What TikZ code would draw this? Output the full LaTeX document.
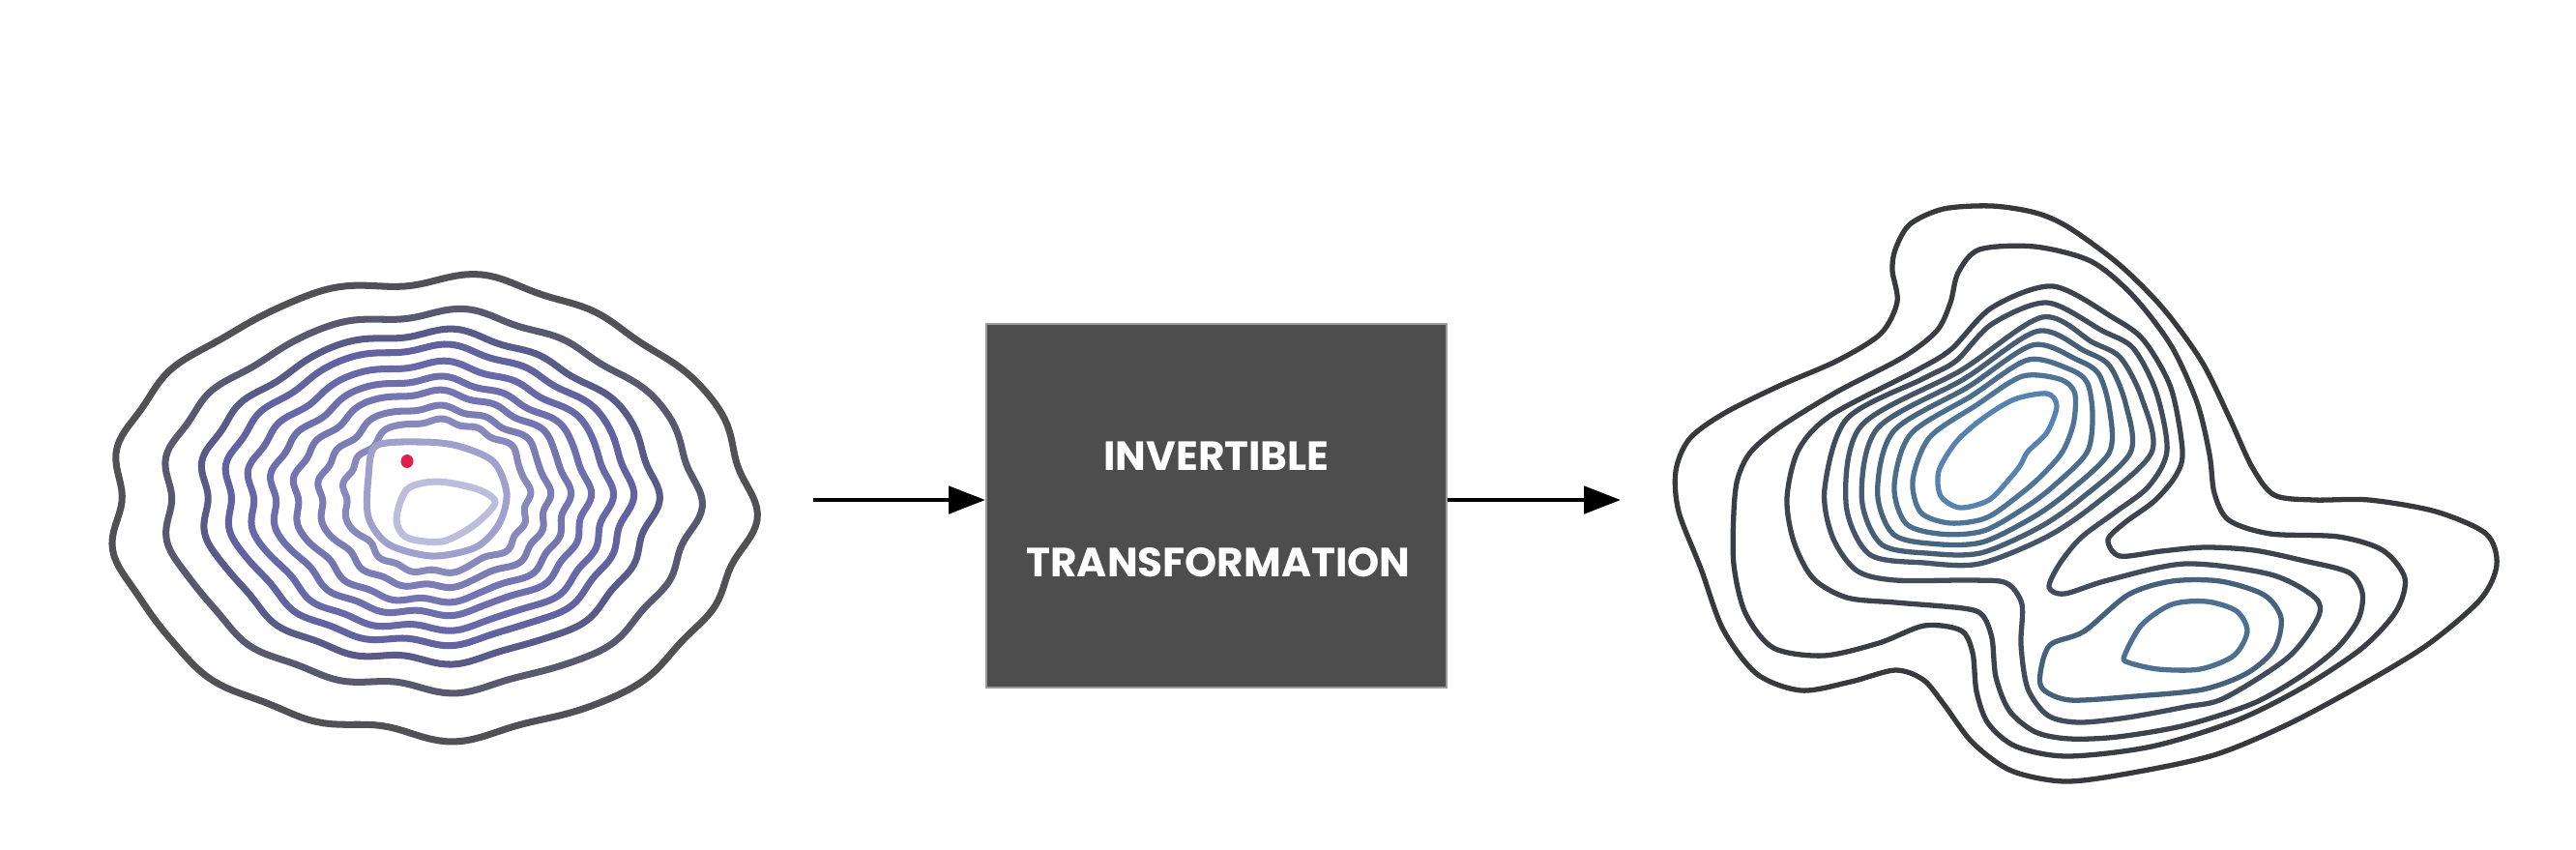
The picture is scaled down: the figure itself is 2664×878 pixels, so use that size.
\documentclass[tikz,border=0pt]{standalone}
\usepackage{fontspec}
\newfontfamily\boxfont{Poppins}
\usetikzlibrary{arrows.meta,calc}
% left contour colours
\definecolor{lA}{HTML}{505055}
\definecolor{lB}{HTML}{58586E}
\definecolor{lC}{HTML}{5A5A88}
\definecolor{lD}{HTML}{6262A0}
\definecolor{lE}{HTML}{6868A8}
\definecolor{lF}{HTML}{6E6EAC}
\definecolor{lG}{HTML}{7474B0}
\definecolor{lH}{HTML}{7C7CB5}
\definecolor{lI}{HTML}{8888BC}
\definecolor{lJ}{HTML}{A0A0CC}
\definecolor{lK}{HTML}{BCBCDC}
% right contour colours
\definecolor{rcA}{HTML}{38393C}
\definecolor{rcB}{HTML}{3A3D43}
\definecolor{rcC}{HTML}{3C434D}
\definecolor{rcD}{HTML}{404C5A}
\definecolor{ucF}{HTML}{445568}
\definecolor{ucE}{HTML}{465D74}
\definecolor{ucD}{HTML}{48657F}
\definecolor{ucC}{HTML}{4B6D8B}
\definecolor{ucB}{HTML}{4E7597}
\definecolor{ucA}{HTML}{5682B0}
\definecolor{lcB}{HTML}{46617C}
\definecolor{lcA}{HTML}{4D7090}
\definecolor{boxfill}{HTML}{4D4D4D}
\definecolor{boxedge}{HTML}{9A9A9A}
\definecolor{dotred}{HTML}{E0204A}
\tikzset{
  lring/.style={line width=2pt, line join=round},
  rring/.style={line width=1.5pt, line join=round},
  arr/.style={line width=1.3pt, -{Triangle[length=10.8pt,width=8pt]}},
  tbox/.style={draw=boxedge, line width=0.5pt, fill=boxfill, minimum width=4.76cm, minimum height=3.76cm, inner sep=0pt},
  btext/.style={text=white, font=\boxfont\bfseries\fontsize{12}{14}\selectfont, inner sep=0pt}
}
\begin{document}
\begin{tikzpicture}[x=0.01cm, y=-0.01cm]
\useasboundingbox (0,0) rectangle (2664,878);
\fill[white] (0,0) rectangle (2664,878);

% ---------- left contour (wavy rings) ----------
\foreach \cx/\a/\cy/\b/\w/\p/\col in {
  444.3/328.8/525/236.2/1.4/40/lA,
  444.3/274.4/519/194.5/1.2/52/lB,
  442.6/233.6/514.8/169.9/1.1/60/lC,
  442.6/208.1/513.1/152.9/1.0/66/lD,
  444.3/186/514/136.8/1.0/72/lE,
  445.1/163.1/514/121.5/0.95/78/lF,
  446.8/141/514/107.9/0.9/84/lG,
  449.4/118.1/514/92.6/0.85/90/lH,
  451.9/95.1/513.1/78.2/0.8/96/lI}{
  \draw[lring, draw=\col] plot[domain=0:360, samples=241, variable=\t]
    ({\cx + cos(\t)*(\a + \w*(2.5*sin(9*\t+\p) + 2.5*sin(13*\t+2*\p) + 2*sin(5*\t+3*\p) + 1.5*sin(17*\t+\p)))},
     {\cy + sin(\t)*(\b + 0.8*\w*(2.5*sin(9*\t+\p) + 2.5*sin(13*\t+2*\p) + 2*sin(5*\t+3*\p) + 1.5*sin(17*\t+\p)))}) -- cycle;
}
\draw[lring, draw=lJ] plot[smooth cycle] coordinates {(389,461) (436,457) (473,461) (510,477) (524,510) (516,542) (492,566) (447,575) (402,563) (381,535) (381,493)};
\draw[lring, draw=lK] plot[smooth cycle] coordinates {(410,537) (421,506) (452,498) (494,506) (512,520) (489,544) (457,560) (421,556)};
\fill[dotred] (421,477) ellipse (6.5 and 7);

% ---------- box and arrows ----------
\node[tbox] (box) at (1258,523) {};
\node[btext] (t1) at (1258,472) {INVERTIBLE};
\node[btext] (t2) at (1260,582) {TRANSFORMATION};
\coordinate (la) at (841,517);
\coordinate (ra) at (1676,517);
\draw[arr] (la) -- (la -| box.west);
\draw[arr] (ra -| box.east) -- (ra);

% ---------- right contour ----------
\draw[rring, draw=rcA] plot[smooth cycle] coordinates {(1960,258) (1975,232) (2010,216) (2060,213) (2105,220) (2139,235) (2191,273) (2237,319) (2277,374) (2306,433) (2329,483) (2352,512) (2393,517) (2450,517) (2519,529) (2571,552) (2582,584) (2565,620) (2510,667) (2439,710) (2364,750) (2289,781) (2200,800) (2135,808) (2080,797) (2040,768) (2010,728) (1989,703) (1960,693) (1914,705) (1863,714) (1817,697) (1782,651) (1759,588) (1736,529) (1733,487) (1747,454) (1782,428) (1840,399) (1900,373) (1945,345) (1962,312) (1957,280)};
\draw[rring, draw=rcB] plot[smooth cycle] coordinates {(2047,258) (2104,255) (2162,270) (2205,305) (2245,357) (2272,416) (2285,470) (2290,510) (2305,538) (2348,552) (2418,555) (2464,569) (2487,598) (2478,632) (2443,670) (2383,710) (2313,745) (2225,772) (2138,782) (2085,772) (2056,748) (2044,715) (2040,675) (2028,652) (1990,647) (1943,665) (1886,678) (1834,670) (1805,634) (1793,584) (1793,529) (1797,495) (1810,468) (1840,442) (1900,405) (1967,370) (2003,342) (2017,313) (2025,282)};
\draw[rring, draw=rcC] plot[smooth cycle] coordinates {(2060,318) (2123,296) (2186,329) (2217,352) (2245,401) (2257,466) (2250,492) (2228,518) (2198,540) (2180,558) (2192,575) (2235,570) (2280,566) (2331,569) (2383,580) (2429,592) (2443,613) (2439,640) (2418,669) (2383,697) (2331,727) (2260,750) (2190,762) (2140,764) (2105,757) (2078,735) (2064,700) (2060,660) (2050,636) (2030,629) (1960,623) (1910,618) (1875,598) (1855,560) (1848,515) (1860,465) (1894,429) (1982,383) (2018,361)};
\draw[rring, draw=rcD] plot[smooth cycle] coordinates {(2060,335) (2117,313) (2174,342) (2206,360) (2230,406) (2241,466) (2222,503) (2187,530) (2152,556) (2130,583) (2119,607) (2135,614) (2180,600) (2260,583) (2348,594) (2394,618) (2397,639) (2366,680) (2300,722) (2260,731) (2200,742) (2150,747) (2118,740) (2097,712) (2090,667) (2091,625) (2075,603) (2040,600) (1960,600) (1920,590) (1895,555) (1887,505) (1910,433) (1990,391) (2023,373)};
% upper peak rings (interpolated between innermost and outermost)
\def\uax{{2127,2117,2097,2090,2080,2057,2027,2007,2005,2023,2050,2083,2117}}
\def\uay{{420,447,467,480,493,517,525,513,487,457,433,413,407}}
\def\ubx{{2193,2215,2225,2166,2115,2047,1990,1933,1909,1925,2028,2112,2164}}
\def\uby{{370,412,468,522,556,583,582,573,520,440,383,328,354}}
\foreach \tt/\cc in {0/ucA, 0.28/ucB, 0.48/ucC, 0.66/ucD, 0.83/ucE, 1/ucF}{
  \gdef\ulist{}
  \foreach \i in {0,...,12}{
    \pgfmathsetmacro\px{\uax[\i]+\tt*(\ubx[\i]-\uax[\i])}
    \pgfmathsetmacro\py{\uay[\i]+\tt*(\uby[\i]-\uay[\i])}
    \xdef\ulist{\ulist(\px,\py) }
  }
  \edef\tmp{\noexpand\draw[rring,draw=\cc] plot[smooth cycle] coordinates {\ulist};}
  \tmp
}
% lower peak rings
\draw[rring, draw=lcB] plot[smooth cycle] coordinates {(2110,696) (2120,667) (2155,653) (2201,615) (2246,601) (2296,601) (2341,615) (2359,639) (2352,671) (2324,696) (2278,713) (2208,720) (2141,724) (2113,713)};
\draw[rring, draw=lcA] plot[smooth cycle] coordinates {(2197,678) (2215,646) (2246,625) (2282,622) (2313,632) (2324,653) (2310,678) (2275,692) (2232,692) (2201,685)};
\end{tikzpicture}
\end{document}
